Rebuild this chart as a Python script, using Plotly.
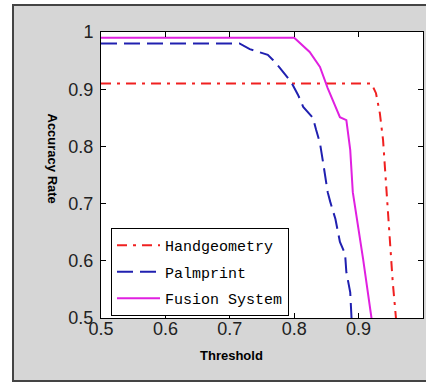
import plotly.graph_objects as go

# Handgeometry
hand_x = [0.5, 0.92, 0.927, 0.933, 0.938, 0.943, 0.946, 0.953, 0.958, 0.962]
hand_y = [0.91, 0.91, 0.893, 0.858, 0.811, 0.729, 0.663, 0.563, 0.5, 0.46]
# Palmprint
palm_x = [0.5, 0.715, 0.731, 0.759, 0.767, 0.778, 0.795, 0.806, 0.814, 0.829, 0.834,
          0.84, 0.845, 0.852, 0.856, 0.864, 0.871, 0.879, 0.881, 0.887, 0.889, 0.892]
palm_y = [0.98, 0.98, 0.97, 0.96, 0.951, 0.937, 0.913, 0.89, 0.869, 0.85, 0.829,
          0.806, 0.771, 0.72, 0.703, 0.673, 0.633, 0.612, 0.58, 0.545, 0.5, 0.46]
# Fusion System
fus_x = [0.5, 0.8, 0.824, 0.84, 0.852, 0.871, 0.881, 0.887, 0.891, 0.896, 0.907, 0.92, 0.925]
fus_y = [0.99, 0.99, 0.965, 0.939, 0.902, 0.851, 0.846, 0.794, 0.72, 0.685, 0.603, 0.5, 0.46]

tick_vals = [0.5, 0.6, 0.7, 0.8, 0.9, 1.0]
tick_text = ["0.5", "0.6", "0.7", "0.8", "0.9", "1"]

fig = go.Figure()
fig.add_trace(go.Scatter(x=hand_x, y=hand_y, mode="lines", name="Handgeometry", legendgroup="a",
                         line=dict(color="#f02020", width=2, dash="10px,6px,3px,6px")))
fig.add_trace(go.Scatter(x=palm_x, y=palm_y, mode="lines", name="Palmprint", legendgroup="b",
                         line=dict(color="#2020b0", width=2, dash="16px,7px")))
fig.add_trace(go.Scatter(x=fus_x, y=fus_y, mode="lines", name="Fusion System", legendgroup="c",
                         line=dict(color="#e020e0", width=2)))

W, H = 426, 384
L, R, T, B = 101, 3, 32, 66
pw, ph = W - L - R, H - T - B

def px(xp):
    return (xp - L) / pw

def py(yp):
    return (H - B - yp) / ph

axis_common = dict(showline=True, linecolor="black", linewidth=1, mirror="ticks",
                   ticks="inside", ticklen=5, tickcolor="black", showgrid=False,
                   zeroline=False, tickvals=tick_vals, ticktext=tick_text,
                   tickfont=dict(family="Liberation Sans", size=18, color="#222222"))

fig.update_layout(
    width=W, height=H,
    margin=dict(l=L, r=R, t=T, b=B),
    paper_bgcolor="white",
    plot_bgcolor="white",
    xaxis=dict(range=[0.5, 1.0], ticklabelstandoff=-6, **axis_common),
    yaxis=dict(range=[0.5, 1.0], ticklabelstandoff=3, **axis_common),
    showlegend=True,
    legend=dict(x=px(111), y=py(228), xanchor="left", yanchor="top",
                bgcolor="white", bordercolor="black", borderwidth=1,
                font=dict(family="Liberation Mono", size=15, color="black"),
                traceorder="grouped", tracegroupgap=4, itemwidth=43),
    shapes=[
        dict(type="rect", xref="paper", yref="paper", layer="below",
             x0=px(13), x1=px(440), y0=py(381), y1=py(5),
             fillcolor="#d6d6d6", line=dict(color="#444444", width=2)),
        dict(type="rect", xref="paper", yref="paper", layer="below",
             x0=0, x1=1, y0=0, y1=1, fillcolor="white", line=dict(width=0)),
    ],
    annotations=[
        dict(text="<b>Accuracy Rate</b>", xref="paper", yref="paper",
             x=px(43), y=py(158), textangle=90, showarrow=False,
             font=dict(family="Liberation Sans", size=13, color="black")),
        dict(text="<b>Threshold</b>", xref="paper", yref="paper",
             x=px(231), y=py(365), showarrow=False,
             font=dict(family="Liberation Sans", size=13, color="black")),
    ],
)

fig.write_html("out.html", config={"displayModeBar": False},
               post_script="document.body.style.margin='0px';document.body.style.overflow='hidden';")
